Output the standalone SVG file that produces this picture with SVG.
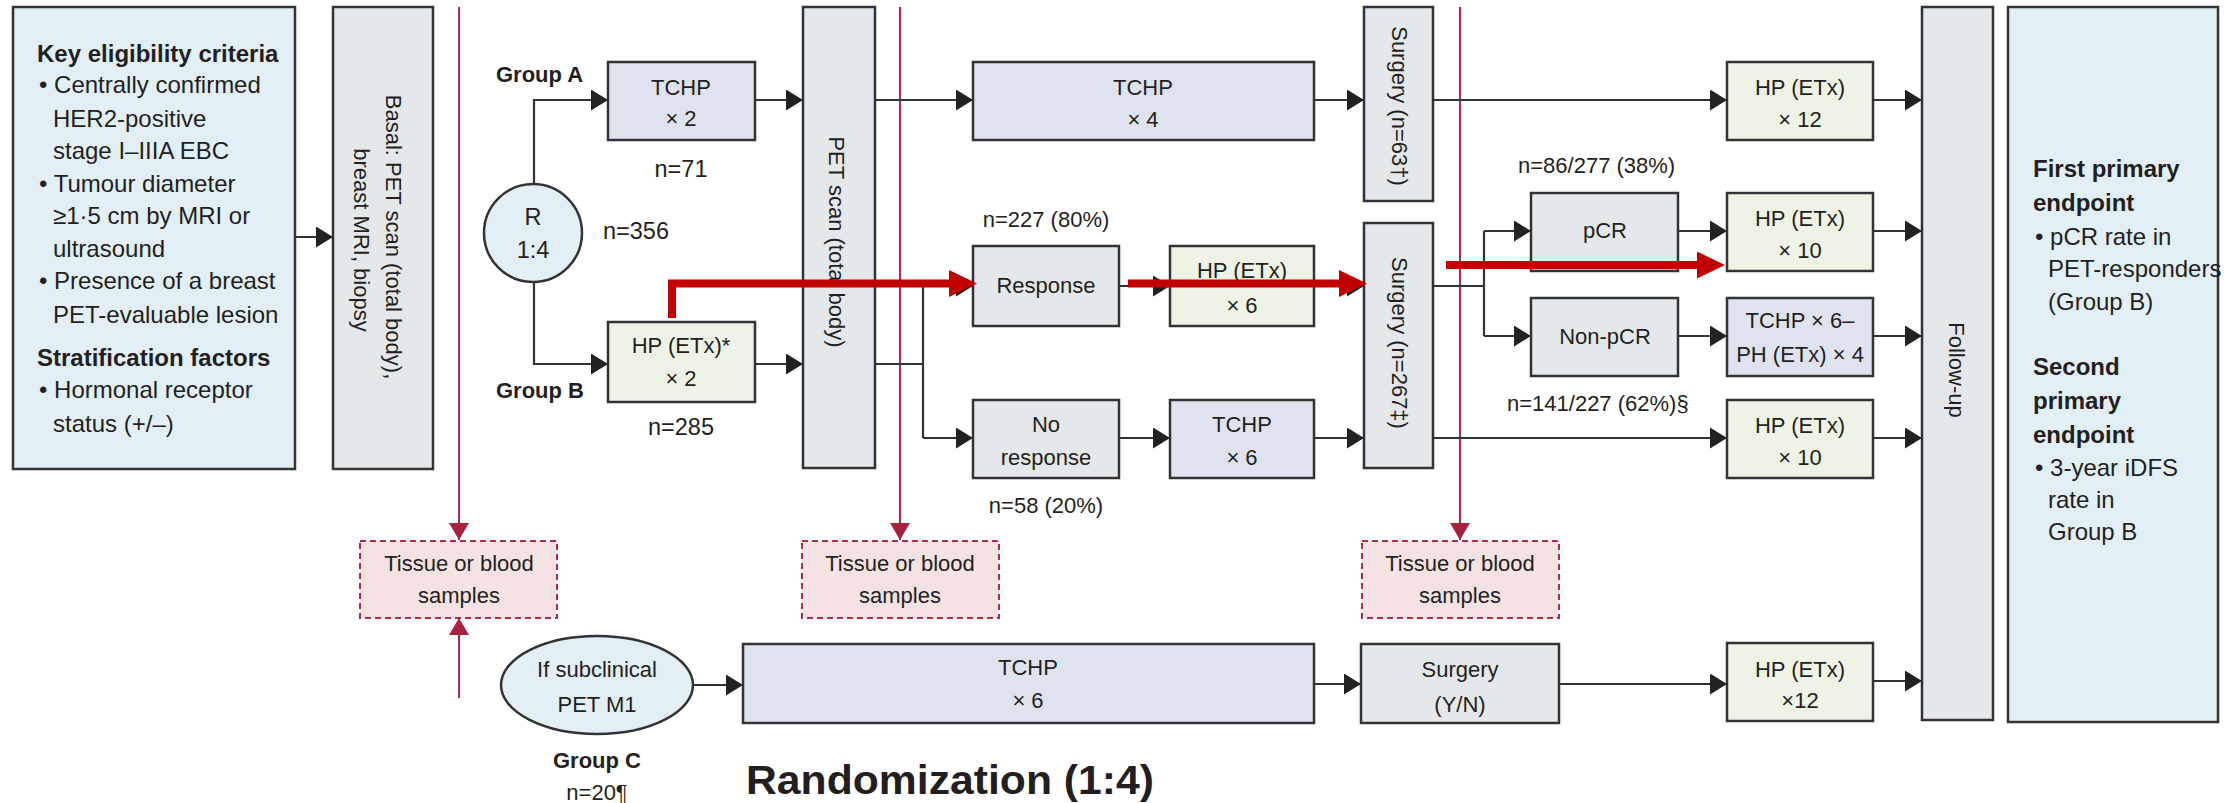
<svg xmlns="http://www.w3.org/2000/svg" width="2224" height="803" viewBox="0 0 2224 803">
  <defs>
    <style>
      .box { stroke: #333; stroke-width: 2.5; }
      .blue { fill: #e2eff6; }
      .grey { fill: #e5e8eb; }
      .lav { fill: #dfe3ef; }
      .green { fill: #eef3e5; }
      .tissue { fill: #f5e2e2; stroke: #b3294e; stroke-width: 2; stroke-dasharray: 6 4; }
      .t { font-family: "Liberation Sans", Arial, sans-serif; font-size: 22px; fill: #231f20; }
      .c { text-anchor: middle; }
      .b { font-weight: bold; }
      .k { font-size: 24px; }
      .n { font-size: 23.5px; }
      .ln { fill: none; stroke: #333; stroke-width: 2.2; }
      .arr { marker-end: url(#ah); }
      .smp { fill: none; stroke: #b3294e; stroke-width: 2; marker-end: url(#sh); }
      .hot { fill: none; stroke: #c00000; stroke-width: 8; marker-end: url(#rh); }
    </style>
    <marker id="ah" markerUnits="userSpaceOnUse" markerWidth="17" markerHeight="21" refX="17" refY="10.5" orient="auto">
      <path d="M0,0 L17,10.5 L0,21 z" fill="#222"/>
    </marker>
    <marker id="sh" markerUnits="userSpaceOnUse" markerWidth="17" markerHeight="20" refX="17" refY="10" orient="auto">
      <path d="M0,0 L17,10 L0,20 z" fill="#a8233f"/>
    </marker>
    <marker id="rh" markerUnits="userSpaceOnUse" markerWidth="28" markerHeight="27" refX="0" refY="13.5" orient="auto">
      <path d="M0,0 L28,13.5 L0,27 z" fill="#c00000"/>
    </marker>
  </defs>

  <!-- sampling time points (thin crimson lines) -->
  <g id="sampling-lines">
    <path class="smp" d="M459,7 V540"/>
    <path class="smp" d="M900,7 V540"/>
    <path class="smp" d="M1460,7 V540"/>
    <path class="smp" d="M459,698 V618"/>
  </g>

  <!-- connectors -->
  <g id="connectors">
    <path class="ln arr" d="M295,237 H333"/>
    <path class="ln arr" d="M534,184 V100 H608"/>
    <path class="ln arr" d="M534,282 V364 H608"/>
    <path class="ln arr" d="M755,100 H803"/>
    <path class="ln arr" d="M755,364 H803"/>
    <path class="ln arr" d="M875,100 H973"/>
    <path class="ln" d="M875,364 H923 M923,285 V438"/>
    <path class="ln arr" d="M923,286 H973"/>
    <path class="ln arr" d="M923,438 H973"/>
    <path class="ln arr" d="M1119,286 H1170"/>
    <path class="ln arr" d="M1314,286 H1364"/>
    <path class="ln arr" d="M1119,438 H1170"/>
    <path class="ln arr" d="M1314,438 H1364"/>
    <path class="ln arr" d="M1314,100 H1364"/>
    <path class="ln arr" d="M1433,100 H1727"/>
    <path class="ln" d="M1433,286 H1484 M1484,231 V336"/>
    <path class="ln arr" d="M1484,231 H1531"/>
    <path class="ln arr" d="M1484,336 H1531"/>
    <path class="ln arr" d="M1678,231 H1727"/>
    <path class="ln arr" d="M1678,336 H1727"/>
    <path class="ln arr" d="M1433,438 H1727"/>
    <path class="ln arr" d="M1873,100 H1922"/>
    <path class="ln arr" d="M1873,231 H1922"/>
    <path class="ln arr" d="M1873,336 H1922"/>
    <path class="ln arr" d="M1873,438 H1922"/>
    <path class="ln arr" d="M693,685 H743"/>
    <path class="ln arr" d="M1314,684 H1361"/>
    <path class="ln arr" d="M1559,684 H1727"/>
    <path class="ln arr" d="M1873,681 H1922"/>
  </g>

  <g id="criteria">
    <rect class="box blue" x="13" y="7" width="282" height="462"/>
    <text class="t k b" x="37" y="62">Key eligibility criteria</text>
    <text class="t k" x="39" y="93">• Centrally confirmed</text>
    <text class="t k" x="53" y="127">HER2-positive</text>
    <text class="t k" x="53" y="159">stage I–IIIA EBC</text>
    <text class="t k" x="39" y="192">• Tumour diameter</text>
    <text class="t k" x="53" y="224">≥1·5 cm by MRI or</text>
    <text class="t k" x="53" y="257">ultrasound</text>
    <text class="t k" x="39" y="289">• Presence of a breast</text>
    <text class="t k" x="53" y="323">PET-evaluable lesion</text>
    <text class="t k b" x="37" y="366">Stratification factors</text>
    <text class="t k" x="39" y="398">• Hormonal receptor</text>
    <text class="t k" x="53" y="432">status (+/–)</text>
  </g>

  <g id="basal">
    <rect class="box grey" x="333" y="7" width="100" height="462"/>
    <text class="t c" transform="translate(386,237) rotate(90)">Basal: PET scan (total body),</text>
    <text class="t c" transform="translate(354,240) rotate(90)">breast MRI, biopsy</text>
  </g>

  <g id="randomisation">
    <circle class="box blue" cx="533" cy="233" r="49"/>
    <text class="t c n" x="533" y="225">R</text>
    <text class="t c n" x="533" y="258">1:4</text>
    <text class="t n" x="603" y="239">n=356</text>
  </g>

  <g id="group-a-labels">
    <text class="t b" x="496" y="82">Group A</text>
    <text class="t c n" x="681" y="177">n=71</text>
  </g>
  <g id="group-b-labels">
    <text class="t b" x="496" y="398">Group B</text>
    <text class="t c n" x="681" y="435">n=285</text>
  </g>

  <g id="tchp-x2">
    <rect class="box lav" x="608" y="62" width="147" height="78"/>
    <text class="t c" x="681" y="95">TCHP</text>
    <text class="t c" x="681" y="126">× 2</text>
  </g>

  <g id="hp-x2">
    <rect class="box green" x="608" y="322" width="147" height="80"/>
    <text class="t c" x="681" y="353">HP (ETx)*</text>
    <text class="t c" x="681" y="386">× 2</text>
  </g>

  <g id="pet-scan">
    <rect class="box grey" x="803" y="7" width="72" height="461"/>
    <text class="t c" transform="translate(829,242) rotate(90)">PET scan (total body)</text>
  </g>

  <g id="tchp-x4">
    <rect class="box lav" x="973" y="62" width="341" height="78"/>
    <text class="t c" x="1143" y="95">TCHP</text>
    <text class="t c" x="1143" y="127">× 4</text>
  </g>

  <g id="response">
    <text class="t c" x="1046" y="227">n=227 (80%)</text>
    <rect class="box grey" x="973" y="246" width="146" height="80"/>
    <text class="t c" x="1046" y="293">Response</text>
  </g>

  <g id="hp-x6">
    <rect class="box green" x="1170" y="246" width="144" height="80"/>
    <text class="t c" x="1242" y="278">HP (ETx)</text>
    <text class="t c" x="1242" y="313">× 6</text>
  </g>

  <g id="no-response">
    <rect class="box grey" x="973" y="400" width="146" height="78"/>
    <text class="t c" x="1046" y="432">No</text>
    <text class="t c" x="1046" y="465">response</text>
    <text class="t c" x="1046" y="513">n=58 (20%)</text>
  </g>

  <g id="tchp-x6">
    <rect class="box lav" x="1170" y="400" width="144" height="78"/>
    <text class="t c" x="1242" y="432">TCHP</text>
    <text class="t c" x="1242" y="465">× 6</text>
  </g>

  <g id="surgery-a">
    <rect class="box grey" x="1364" y="7" width="69" height="194"/>
    <text class="t c" transform="translate(1392,106) rotate(90)">Surgery (n=63†)</text>
  </g>

  <g id="surgery-b">
    <rect class="box grey" x="1364" y="223" width="69" height="245"/>
    <text class="t c" transform="translate(1392,343) rotate(90)">Surgery (n=267‡)</text>
  </g>

  <g id="pcr">
    <text class="t" x="1518" y="173">n=86/277 (38%)</text>
    <rect class="box grey" x="1531" y="193" width="147" height="78"/>
    <text class="t c" x="1605" y="238">pCR</text>
  </g>

  <g id="non-pcr">
    <rect class="box grey" x="1531" y="298" width="147" height="78"/>
    <text class="t c" x="1605" y="344">Non-pCR</text>
    <text class="t" x="1507" y="411">n=141/227 (62%)§</text>
  </g>

  <g id="hp-x12-a">
    <rect class="box green" x="1727" y="62" width="146" height="78"/>
    <text class="t c" x="1800" y="95">HP (ETx)</text>
    <text class="t c" x="1800" y="127">× 12</text>
  </g>

  <g id="hp-x10-pcr">
    <rect class="box green" x="1727" y="193" width="146" height="78"/>
    <text class="t c" x="1800" y="226">HP (ETx)</text>
    <text class="t c" x="1800" y="258">× 10</text>
  </g>

  <g id="tchp-ph">
    <rect class="box lav" x="1727" y="298" width="146" height="78"/>
    <text class="t c" x="1800" y="328">TCHP × 6–</text>
    <text class="t c" x="1800" y="362">PH (ETx) × 4</text>
  </g>

  <g id="hp-x10-nr">
    <rect class="box green" x="1727" y="400" width="146" height="78"/>
    <text class="t c" x="1800" y="433">HP (ETx)</text>
    <text class="t c" x="1800" y="465">× 10</text>
  </g>

  <g id="follow-up">
    <rect class="box grey" x="1922" y="7" width="71" height="713"/>
    <text class="t c" transform="translate(1949,370) rotate(90)">Follow-up</text>
  </g>

  <g id="endpoints">
    <rect class="box blue" x="2008" y="7" width="210" height="715"/>
    <text class="t k b" x="2033" y="177">First primary</text>
    <text class="t k b" x="2033" y="211">endpoint</text>
    <text class="t k" x="2035" y="245">• pCR rate in</text>
    <text class="t k" x="2048" y="277">PET-responders</text>
    <text class="t k" x="2048" y="310">(Group B)</text>
    <text class="t k b" x="2033" y="375">Second</text>
    <text class="t k b" x="2033" y="409">primary</text>
    <text class="t k b" x="2033" y="443">endpoint</text>
    <text class="t k" x="2035" y="476">• 3-year iDFS</text>
    <text class="t k" x="2048" y="508">rate in</text>
    <text class="t k" x="2048" y="540">Group B</text>
  </g>

  <g id="samples-1">
    <rect class="tissue" x="360" y="541" width="197" height="77"/>
    <text class="t c" x="459" y="571">Tissue or blood</text>
    <text class="t c" x="459" y="603">samples</text>
  </g>
  <g id="samples-2">
    <rect class="tissue" x="802" y="541" width="197" height="77"/>
    <text class="t c" x="900" y="571">Tissue or blood</text>
    <text class="t c" x="900" y="603">samples</text>
  </g>
  <g id="samples-3">
    <rect class="tissue" x="1362" y="541" width="197" height="77"/>
    <text class="t c" x="1460" y="571">Tissue or blood</text>
    <text class="t c" x="1460" y="603">samples</text>
  </g>

  <g id="group-c">
    <ellipse class="box blue" cx="597" cy="685" rx="96" ry="49"/>
    <text class="t c" x="597" y="677">If subclinical</text>
    <text class="t c" x="597" y="712">PET M1</text>
    <text class="t c b" x="597" y="768">Group C</text>
    <text class="t c" x="597" y="800">n=20¶</text>
  </g>

  <g id="tchp-x6-c">
    <rect class="box lav" x="743" y="644" width="571" height="79"/>
    <text class="t c" x="1028" y="675">TCHP</text>
    <text class="t c" x="1028" y="708">× 6</text>
  </g>

  <g id="surgery-c">
    <rect class="box grey" x="1361" y="644" width="198" height="79"/>
    <text class="t c" x="1460" y="677">Surgery</text>
    <text class="t c" x="1460" y="712">(Y/N)</text>
  </g>

  <g id="hp-x12-c">
    <rect class="box green" x="1727" y="643" width="146" height="78"/>
    <text class="t c" x="1800" y="677">HP (ETx)</text>
    <text class="t c" x="1800" y="708">×12</text>
  </g>

  <text class="t b" x="746" y="794" style="font-size:40px" textLength="408" lengthAdjust="spacingAndGlyphs">Randomization (1:4)</text>

  <!-- highlighted responder pathway -->
  <g id="responder-path">
    <path class="hot" d="M672,318 V283.5 H949"/>
    <path class="hot" d="M1128,283.5 H1339"/>
    <path class="hot" d="M1446,265 H1697"/>
  </g>
</svg>
